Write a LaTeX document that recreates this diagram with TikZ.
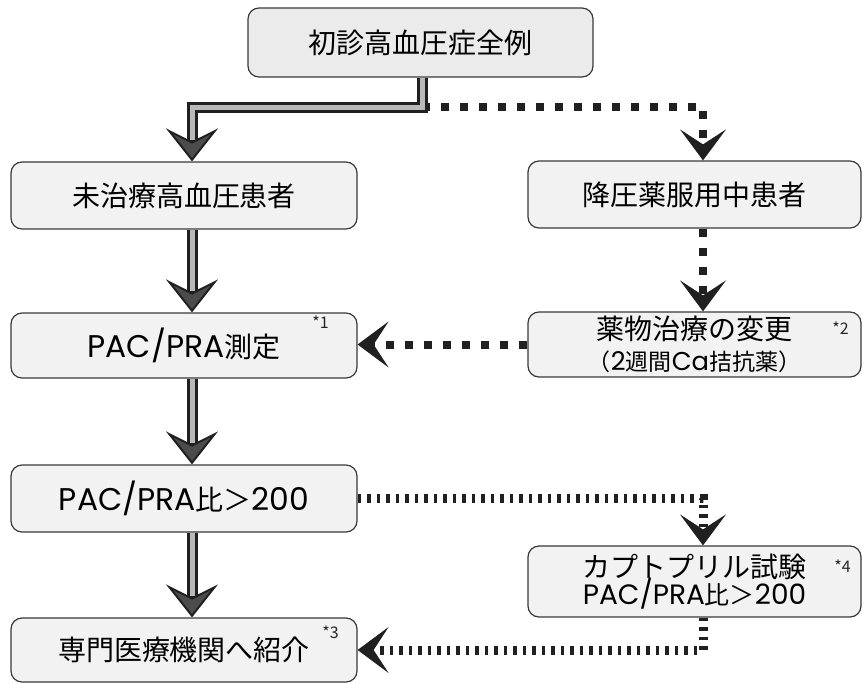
\documentclass[tikz,border=0pt]{standalone}
\usepackage{fontspec}
\setmainfont{Noto Sans CJK JP}
\newfontfamily\lat[Scale=1.12]{Poppins}
\usetikzlibrary{arrows.meta}
\begin{document}
\begin{tikzpicture}[x=1pt,y=-1pt,
  box/.style={draw=gray!45!black, line width=1.2pt, rounded corners=11pt, fill=gray!10,
    inner sep=0pt, align=center, font=\fontsize{28}{34}\selectfont},
  leftbox/.style={box, minimum width=346pt},
  rightbox/.style={box, minimum width=333pt},
  note/.style={font=\fontsize{16}{16}\selectfont, text=gray!30!black, inner sep=0pt},
  thickarrow/.style={draw=gray!25!black, line width=11pt,
    -{Stealth[length=33pt,width=52pt,inset=13pt,fill=gray!60!black,line width=2pt]},
    postaction={draw=gray!55, line width=5pt, -, shorten >=21pt}},
  dotarrow/.style={draw=gray!25!black, line width=8pt, dash pattern=on 8pt off 11pt,
    -{Stealth[length=31pt,width=46pt,inset=15pt,line width=1pt]}},
  densearrow/.style={dotarrow, line width=9pt, dash pattern=on 3.5pt off 6pt}
]
\useasboundingbox (0,0) rectangle (863,683);

% nodes
\node[box, fill=gray!16, minimum width=345pt, minimum height=69pt] (top) at (420.5,42.5) {初診高血圧症全例};
\node[leftbox, minimum height=67pt] (L1) at (184,195.5) {未治療高血圧患者};
\node[leftbox, minimum height=65pt] (L2) at (184,345.5) {{\lat PAC/PRA}測定};
\node[leftbox, minimum height=67pt] (L3) at (184,498.5) {{\lat PAC/PRA}比＞{\lat 200}};
\node[leftbox, minimum height=64pt] (L4) at (184,650) {専門医療機関へ紹介};
\node[rightbox, minimum height=67pt] (R1) at (694.5,194.5) {降圧薬服用中患者};
\node[rightbox, minimum height=65pt] (R2) at (694.5,344.5) {薬物治療の変更\\[-3pt]{\fontsize{23}{26}\selectfont （{\lat 2}週間{\lat Ca}拮抗薬）}};
\node[rightbox, minimum height=71pt] (R3) at (694.5,581.5) {カプトプリル試験\\[-7pt]{\fontsize{25}{28}\selectfont {\lat PAC/PRA}比＞{\lat 200}}};

\node[note] (n1) at ([xshift=-37pt,yshift=-10pt]L2.north east) {*1};
\node[note] (n2) at ([xshift=-21pt,yshift=-17pt]R2.north east) {*2};
\node[note] (n3) at ([xshift=-27pt,yshift=-15pt]L4.north east) {*3};
\node[note] (n4) at ([xshift=-19pt,yshift=-21pt]R3.north east) {*4};

\coordinate (split) at (422,107);

% dotted connectors
\draw[dotarrow] (split) -| ([xshift=8.5pt]R1.north);
\draw[dotarrow] ([xshift=8.5pt]R1.south) -- ([xshift=8.5pt]R2.north);
\draw[dotarrow] (R2.west) -- (R2.west -| L2.east);
\draw[densearrow] (L3.east) -| ([xshift=8.5pt]R3.north);
\draw[densearrow] ([xshift=8.5pt]R3.south) |- (L4.east);

% thick connectors
\draw[thickarrow] (top.south -| split) -- (split) -| ([xshift=8pt]L1.north);
\draw[thickarrow] ([xshift=8pt]L1.south) -- ([xshift=8pt]L2.north);
\draw[thickarrow] ([xshift=8pt]L2.south) -- ([xshift=8pt]L3.north);
\draw[thickarrow] ([xshift=8pt]L3.south) -- ([xshift=8pt]L4.north);
\end{tikzpicture}
\end{document}
